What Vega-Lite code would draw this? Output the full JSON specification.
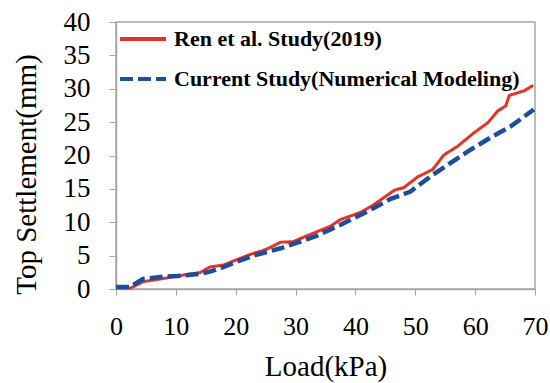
{
  "$schema": "https://vega.github.io/schema/vega-lite/v6.json",
  "autosize": {"type": "none"},
  "padding": {"left": 116, "top": 22, "right": 15, "bottom": 94},
  "width": 419,
  "height": 267,
  "background": "white",
  "config": {
    "view": {"stroke": "#a6a6a6", "strokeWidth": 1.5},
    "font": "Liberation Serif"
  },
  "data": {
    "values": [
      {"load": 0, "settlement": 0.2, "series": "Ren et al. Study(2019)"},
      {"load": 2.5, "settlement": 0.15, "series": "Ren et al. Study(2019)"},
      {"load": 4.5, "settlement": 1.1, "series": "Ren et al. Study(2019)"},
      {"load": 7.4, "settlement": 1.5, "series": "Ren et al. Study(2019)"},
      {"load": 10.2, "settlement": 1.95, "series": "Ren et al. Study(2019)"},
      {"load": 14, "settlement": 2.45, "series": "Ren et al. Study(2019)"},
      {"load": 15.7, "settlement": 3.3, "series": "Ren et al. Study(2019)"},
      {"load": 18, "settlement": 3.6, "series": "Ren et al. Study(2019)"},
      {"load": 20.2, "settlement": 4.4, "series": "Ren et al. Study(2019)"},
      {"load": 22.5, "settlement": 5.2, "series": "Ren et al. Study(2019)"},
      {"load": 25, "settlement": 5.9, "series": "Ren et al. Study(2019)"},
      {"load": 27.5, "settlement": 7.0, "series": "Ren et al. Study(2019)"},
      {"load": 29.6, "settlement": 7.1, "series": "Ren et al. Study(2019)"},
      {"load": 32.5, "settlement": 8.2, "series": "Ren et al. Study(2019)"},
      {"load": 35.8, "settlement": 9.4, "series": "Ren et al. Study(2019)"},
      {"load": 37.5, "settlement": 10.4, "series": "Ren et al. Study(2019)"},
      {"load": 40.9, "settlement": 11.5, "series": "Ren et al. Study(2019)"},
      {"load": 43, "settlement": 12.6, "series": "Ren et al. Study(2019)"},
      {"load": 45.4, "settlement": 14.1, "series": "Ren et al. Study(2019)"},
      {"load": 46.5, "settlement": 14.8, "series": "Ren et al. Study(2019)"},
      {"load": 48.1, "settlement": 15.2, "series": "Ren et al. Study(2019)"},
      {"load": 50.4, "settlement": 16.8, "series": "Ren et al. Study(2019)"},
      {"load": 52.9, "settlement": 17.9, "series": "Ren et al. Study(2019)"},
      {"load": 54.8, "settlement": 20.1, "series": "Ren et al. Study(2019)"},
      {"load": 57.1, "settlement": 21.4, "series": "Ren et al. Study(2019)"},
      {"load": 59.8, "settlement": 23.4, "series": "Ren et al. Study(2019)"},
      {"load": 62.1, "settlement": 24.9, "series": "Ren et al. Study(2019)"},
      {"load": 63.8, "settlement": 26.7, "series": "Ren et al. Study(2019)"},
      {"load": 65.1, "settlement": 27.4, "series": "Ren et al. Study(2019)"},
      {"load": 65.7, "settlement": 29.0, "series": "Ren et al. Study(2019)"},
      {"load": 68.2, "settlement": 29.7, "series": "Ren et al. Study(2019)"},
      {"load": 69.7, "settlement": 30.5, "series": "Ren et al. Study(2019)"},
      {"load": 0, "settlement": 0.3, "series": "Current Study(Numerical Modeling)"},
      {"load": 2.3, "settlement": 0.3, "series": "Current Study(Numerical Modeling)"},
      {"load": 4.5, "settlement": 1.5, "series": "Current Study(Numerical Modeling)"},
      {"load": 7.4, "settlement": 1.8, "series": "Current Study(Numerical Modeling)"},
      {"load": 10.2, "settlement": 1.95, "series": "Current Study(Numerical Modeling)"},
      {"load": 14, "settlement": 2.25, "series": "Current Study(Numerical Modeling)"},
      {"load": 15.7, "settlement": 2.6, "series": "Current Study(Numerical Modeling)"},
      {"load": 18, "settlement": 3.3, "series": "Current Study(Numerical Modeling)"},
      {"load": 20.2, "settlement": 4.1, "series": "Current Study(Numerical Modeling)"},
      {"load": 23, "settlement": 5.0, "series": "Current Study(Numerical Modeling)"},
      {"load": 27.5, "settlement": 6.1, "series": "Current Study(Numerical Modeling)"},
      {"load": 30.8, "settlement": 7.1, "series": "Current Study(Numerical Modeling)"},
      {"load": 33.6, "settlement": 8.0, "series": "Current Study(Numerical Modeling)"},
      {"load": 37, "settlement": 9.4, "series": "Current Study(Numerical Modeling)"},
      {"load": 40.4, "settlement": 10.9, "series": "Current Study(Numerical Modeling)"},
      {"load": 43, "settlement": 12.1, "series": "Current Study(Numerical Modeling)"},
      {"load": 45.9, "settlement": 13.5, "series": "Current Study(Numerical Modeling)"},
      {"load": 49.2, "settlement": 14.6, "series": "Current Study(Numerical Modeling)"},
      {"load": 52.6, "settlement": 16.9, "series": "Current Study(Numerical Modeling)"},
      {"load": 55.9, "settlement": 18.9, "series": "Current Study(Numerical Modeling)"},
      {"load": 59.3, "settlement": 20.9, "series": "Current Study(Numerical Modeling)"},
      {"load": 62.6, "settlement": 22.7, "series": "Current Study(Numerical Modeling)"},
      {"load": 66, "settlement": 24.4, "series": "Current Study(Numerical Modeling)"},
      {"load": 69.8, "settlement": 26.9, "series": "Current Study(Numerical Modeling)"}
    ]
  },
  "encoding": {
    "x": {
      "field": "load",
      "type": "quantitative",
      "scale": {"domain": [0, 70], "nice": false},
      "axis": {
        "title": "Load(kPa)",
        "values": [0, 10, 20, 30, 40, 50, 60, 70],
        "grid": false,
        "domainColor": "#a6a6a6",
        "domainWidth": 1.5,
        "tickColor": "#a6a6a6",
        "tickSize": 6,
        "labelFont": "Liberation Serif",
        "labelFontSize": 26,
        "labelColor": "black",
        "labelPadding": 18,
        "labelFlush": false,
        "titleFont": "Liberation Serif",
        "titleFontSize": 29,
        "titleFontWeight": "normal",
        "titleColor": "black",
        "titlePadding": 13
      }
    },
    "y": {
      "field": "settlement",
      "type": "quantitative",
      "scale": {"domain": [0, 40], "nice": false},
      "axis": {
        "title": "Top Settlement(mm)",
        "values": [0, 5, 10, 15, 20, 25, 30, 35, 40],
        "grid": false,
        "domainColor": "#a6a6a6",
        "domainWidth": 1.5,
        "tickColor": "#a6a6a6",
        "tickSize": 7,
        "labelFont": "Liberation Serif",
        "labelFontSize": 27,
        "labelColor": "black",
        "labelPadding": 19,
        "labelFlush": false,
        "titleFont": "Liberation Serif",
        "titleFontSize": 29,
        "titleFontWeight": "normal",
        "titleColor": "black",
        "titlePadding": 22,
        "titleY": 152
      }
    },
    "color": {
      "field": "series",
      "type": "nominal",
      "scale": {
        "domain": ["Ren et al. Study(2019)", "Current Study(Numerical Modeling)"],
        "range": ["#e53229", "#1d4d9b"]
      },
      "legend": {
        "title": null,
        "orient": "none",
        "legendX": 2,
        "legendY": -8,
        "padding": 0,
        "symbolType": "stroke",
        "symbolSize": 2116,
        "symbolStrokeWidth": 4,
        "labelFont": "Liberation Serif",
        "labelFontWeight": "bold",
        "labelFontSize": 22,
        "labelColor": "black",
        "labelOffset": 6,
        "labelLimit": 600,
        "rowPadding": 4
      }
    },
    "strokeDash": {
      "field": "series",
      "type": "nominal",
      "scale": {
        "domain": ["Ren et al. Study(2019)", "Current Study(Numerical Modeling)"],
        "range": [[1, 0], [13, 5]]
      },
      "legend": {
        "title": null,
        "orient": "none",
        "legendX": 2,
        "legendY": -8,
        "padding": 0,
        "symbolType": "stroke",
        "symbolSize": 2116,
        "symbolStrokeWidth": 4,
        "labelFont": "Liberation Serif",
        "labelFontWeight": "bold",
        "labelFontSize": 22,
        "labelColor": "black",
        "labelOffset": 6,
        "labelLimit": 600,
        "rowPadding": 4
      }
    }
  },
  "layer": [
    {
      "transform": [{"filter": "datum.series === 'Ren et al. Study(2019)'"}],
      "mark": {"type": "line", "strokeWidth": 3}
    },
    {
      "transform": [{"filter": "datum.series === 'Current Study(Numerical Modeling)'"}],
      "mark": {"type": "line", "strokeWidth": 4.5}
    }
  ]
}
